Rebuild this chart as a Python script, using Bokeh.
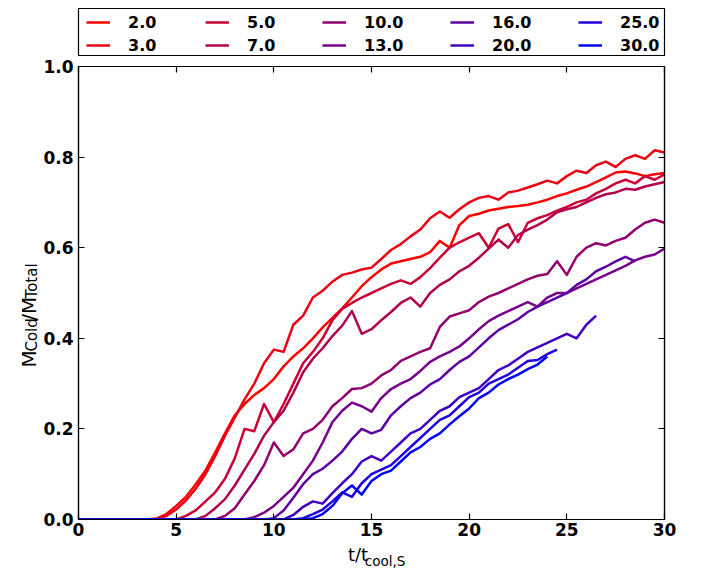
import math
from bokeh.plotting import figure
from bokeh.layouts import column, row
from bokeh.models import Label, Legend, LegendItem, LinearAxis, FixedTicker, ColumnDataSource
from bokeh.embed import file_html
from bokeh.resources import INLINE

NAN = float("nan")

t_grid = [0.0, 0.5, 1.0, 1.5, 2.0, 2.5, 3.0, 3.5, 4.0, 4.5, 5.0, 5.5, 6.0, 6.5, 7.0, 7.5,
          8.0, 8.5, 9.0, 9.5, 10.0, 10.5, 11.0, 11.5, 12.0, 12.5, 13.0, 13.5, 14.0, 14.5,
          15.0, 15.5, 16.0, 16.5, 17.0, 17.5, 18.0, 18.5, 19.0, 19.5, 20.0, 20.5, 21.0,
          21.5, 22.0, 22.5, 23.0, 23.5, 24.0, 24.5, 25.0, 25.5, 26.0, 26.5, 27.0, 27.5,
          28.0, 28.5, 29.0, 29.5, 30.0]

labels = ["2.0", "3.0", "5.0", "7.0", "10.0", "13.0", "16.0", "20.0", "25.0", "30.0"]
colors = ["#ff0000", "#eb0014", "#cb0034", "#b2004d", "#91006e", "#760089",
          "#5d00a2", "#3f00c0", "#1e00e1", "#0000ff"]

y_2 = [0, 0, 0, 0, 0, 0, 0, 0, 0.002, 0.012, 0.03, 0.05, 0.078, 0.108, 0.148, 0.19,
       0.23, 0.255, 0.275, 0.29, 0.31, 0.338, 0.36, 0.378, 0.4, 0.424, 0.445, 0.466,
       0.49, 0.515, 0.535, 0.552, 0.565, 0.57, 0.575, 0.58, 0.59, 0.615, 0.6, 0.65,
       0.67, 0.675, 0.682, 0.686, 0.69, 0.692, 0.695, 0.70, 0.706, 0.714, 0.72, 0.728,
       0.735, 0.745, 0.755, 0.766, 0.768, 0.764, 0.758, 0.762, 0.765]
y_3 = [0, 0, 0, 0, 0, 0, 0, 0, 0, 0.008, 0.022, 0.042, 0.068, 0.1, 0.14, 0.185,
       0.225, 0.265, 0.3, 0.345, 0.375, 0.37, 0.43, 0.45, 0.49, 0.505, 0.525, 0.54,
       0.545, 0.552, 0.556, 0.575, 0.595, 0.608, 0.625, 0.64, 0.665, 0.68, 0.666, 0.685,
       0.70, 0.71, 0.714, 0.706, 0.722, 0.726, 0.733, 0.74, 0.748, 0.742, 0.758, 0.77,
       0.765, 0.782, 0.79, 0.778, 0.796, 0.804, 0.796, 0.815, 0.81]
y_5 = [0, 0, 0, 0, 0, 0, 0, 0, 0, 0, 0, 0.008, 0.02, 0.04, 0.06, 0.09,
       0.135, 0.2, 0.195, 0.255, 0.215, 0.255, 0.3, 0.345, 0.37, 0.40, 0.44, 0.465,
       0.478, 0.49, 0.5, 0.51, 0.52, 0.528, 0.52, 0.535, 0.555, 0.578, 0.6, 0.612,
       0.622, 0.632, 0.6, 0.642, 0.652, 0.612, 0.655, 0.665, 0.672, 0.682, 0.69, 0.7,
       0.706, 0.72, 0.73, 0.742, 0.75, 0.742, 0.758, 0.75, 0.762]
y_7 = [0, 0, 0, 0, 0, 0, 0, 0, 0, 0, 0, 0, 0, 0.008, 0.025, 0.045,
       0.075, 0.11, 0.145, 0.185, 0.215, 0.24, 0.28, 0.325, 0.355, 0.378, 0.405, 0.428,
       0.46, 0.41, 0.42, 0.44, 0.458, 0.478, 0.49, 0.47, 0.5, 0.518, 0.53, 0.548,
       0.56, 0.578, 0.598, 0.618, 0.6, 0.628, 0.64, 0.65, 0.662, 0.678, 0.685, 0.69,
       0.7, 0.71, 0.718, 0.722, 0.73, 0.728, 0.735, 0.74, 0.745]
y_10 = [0, 0, 0, 0, 0, 0, 0, 0, 0, 0, 0, 0, 0, 0, 0, 0.008,
        0.025, 0.055, 0.085, 0.12, 0.17, 0.14, 0.155, 0.19, 0.2, 0.22, 0.25, 0.268,
        0.288, 0.29, 0.3, 0.318, 0.33, 0.35, 0.36, 0.37, 0.378, 0.425, 0.448, 0.455,
        0.462, 0.48, 0.492, 0.5, 0.51, 0.52, 0.53, 0.538, 0.542, 0.57, 0.54, 0.58,
        0.6, 0.61, 0.605, 0.615, 0.622, 0.64, 0.655, 0.662, 0.655]
y_13 = [0, 0, 0, 0, 0, 0, 0, 0, 0, 0, 0, 0, 0, 0, 0, 0,
        0, 0, 0.005, 0.015, 0.03, 0.05, 0.07, 0.1, 0.13, 0.17, 0.215, 0.24,
        0.258, 0.25, 0.238, 0.268, 0.288, 0.3, 0.31, 0.328, 0.348, 0.36, 0.37, 0.382,
        0.4, 0.42, 0.438, 0.45, 0.46, 0.47, 0.48, 0.47, 0.49, 0.5, 0.5, 0.51,
        0.52, 0.53, 0.54, 0.55, 0.56, 0.572, 0.58, 0.585, 0.598]
y_16 = [0, 0, 0, 0, 0, 0, 0, 0, 0, 0, 0, 0, 0, 0, 0, 0,
        0, 0, 0, 0, 0.003, 0.02, 0.048, 0.078, 0.1, 0.112, 0.13, 0.15,
        0.178, 0.2, 0.19, 0.198, 0.23, 0.25, 0.268, 0.28, 0.298, 0.31, 0.33, 0.348,
        0.36, 0.38, 0.4, 0.418, 0.43, 0.442, 0.458, 0.47, 0.48, 0.49, 0.5, 0.518,
        0.53, 0.548, 0.558, 0.57, 0.58, 0.57, NAN, NAN, NAN]
y_20 = [0, 0, 0, 0, 0, 0, 0, 0, 0, 0, 0, 0, 0, 0, 0, 0,
        0, 0, 0, 0, 0, 0, 0.01, 0.028, 0.04, 0.035, 0.058, 0.08,
        0.1, 0.128, 0.14, 0.13, 0.15, 0.17, 0.19, 0.2, 0.22, 0.24, 0.25, 0.27,
        0.28, 0.29, 0.31, 0.33, 0.34, 0.355, 0.37, 0.38, 0.39, 0.4, 0.41, 0.4,
        0.43, 0.45, NAN, NAN, NAN, NAN, NAN, NAN, NAN]
y_25 = [0, 0, 0, 0, 0, 0, 0, 0, 0, 0, 0, 0, 0, 0, 0, 0,
        0, 0, 0, 0, 0, 0, 0, 0.003, 0.012, 0.022, 0.04, 0.06,
        0.05, 0.08, 0.1, 0.11, 0.12, 0.14, 0.16, 0.18, 0.2, 0.22, 0.23, 0.25,
        0.27, 0.28, 0.3, 0.31, 0.32, 0.335, 0.35, 0.352, 0.365, 0.375, NAN, NAN,
        NAN, NAN, NAN, NAN, NAN, NAN, NAN, NAN, NAN]
y_30 = [0, 0, 0, 0, 0, 0, 0, 0, 0, 0, 0, 0, 0, 0, 0, 0,
        0, 0, 0, 0, 0, 0, 0, 0, 0.003, 0.012, 0.03, 0.058,
        0.075, 0.055, 0.085, 0.1, 0.108, 0.128, 0.148, 0.16, 0.178, 0.19, 0.21, 0.228,
        0.245, 0.268, 0.28, 0.298, 0.31, 0.32, 0.332, 0.342, 0.36, NAN, NAN, NAN,
        NAN, NAN, NAN, NAN, NAN, NAN, NAN, NAN, NAN]

series = [y_2, y_3, y_5, y_7, y_10, y_13, y_16, y_20, y_25, y_30]

x_ticks = [0, 5, 10, 15, 20, 25, 30]
y_ticks = [0.0, 0.2, 0.4, 0.6, 0.8, 1.0]

FONT = "DejaVu Sans"
LW = 2.5

# ---------------- main plot ----------------
p = figure(frame_width=586, frame_height=453, x_range=(0, 30), y_range=(0, 1),
           output_backend="svg", toolbar_location=None,
           min_border_left=38, min_border_top=10, min_border_bottom=26, min_border_right=34)
p.background_fill_color = "white"
p.border_fill_color = "white"
p.outline_line_color = "black"
p.outline_line_width = 1.2
p.xgrid.visible = False
p.ygrid.visible = False

def style_axis(ax, show_labels=True):
    ax.major_tick_in = 6
    ax.major_tick_out = 0
    ax.minor_tick_line_color = None
    ax.major_tick_line_color = "black"
    ax.major_tick_line_width = 1.2
    ax.axis_line_color = "black"
    ax.axis_line_width = 1.2
    ax.major_label_text_font = FONT
    ax.major_label_text_font_style = "bold"
    if show_labels:
        ax.major_label_text_font_size = "17px"
        ax.major_label_text_color = "black"
        ax.major_label_standoff = 5
    else:
        ax.major_label_text_font_size = "1px"
        ax.major_label_text_color = None
        ax.major_label_standoff = 0

p.xaxis.ticker = FixedTicker(ticks=x_ticks)
p.yaxis.ticker = FixedTicker(ticks=y_ticks)
p.xaxis.major_label_overrides = {v: str(v) for v in x_ticks}
p.yaxis.major_label_overrides = {v: "%.1f" % v for v in y_ticks}
style_axis(p.xaxis[0])
style_axis(p.yaxis[0])
p.xaxis[0].major_label_standoff = 3

top_ax = LinearAxis(ticker=FixedTicker(ticks=x_ticks))
style_axis(top_ax, False)
p.add_layout(top_ax, "above")
right_ax = LinearAxis(ticker=FixedTicker(ticks=y_ticks))
style_axis(right_ax, False)
p.add_layout(right_ax, "right")

for col, ys in zip(colors, series):
    src = ColumnDataSource(dict(t=t_grid, y=ys))
    p.line("t", "y", source=src, line_color=col, line_width=LW, line_join="round")

# ---------------- legend strip (its frame is the legend box) ----------------
lf = figure(width=700, height=56, x_range=(0, 1), y_range=(0, 1),
            output_backend="svg", toolbar_location=None,
            x_axis_location=None, y_axis_location=None,
            min_border_left=78, min_border_right=36, min_border_top=8, min_border_bottom=0)
lf.xgrid.visible = False
lf.ygrid.visible = False
lf.outline_line_color = "black"
lf.outline_line_width = 1.2
lf.border_fill_color = "white"

leg_items = []
for lab_txt, col in zip(labels, colors):
    # a single empty (NaN) point: nothing is drawn, only the legend swatch
    r = lf.line(x=[NAN], y=[NAN], line_color=col, line_width=LW)
    leg_items.append(LegendItem(label=lab_txt, renderers=[r]))

col_x = [8, 127, 244, 372, 500]
for k in range(5):
    lg = Legend(items=leg_items[2 * k:2 * k + 2], location=(col_x[k], 1),
                orientation="vertical",
                label_text_font=FONT, label_text_font_style="bold",
                label_text_font_size="16px", label_text_color="black",
                glyph_width=24, glyph_height=20, label_height=20,
                label_standoff=18, spacing=3, padding=2, margin=0,
                border_line_color=None, background_fill_alpha=0.0)
    lf.add_layout(lg, "center")

# ---------------- y-axis title strip ----------------
yl = figure(width=40, height=489, x_range=(0, 40), y_range=(0, 489),
            output_backend="svg", toolbar_location=None,
            x_axis_location=None, y_axis_location=None, min_border=0)
yl.xgrid.visible = False
yl.ygrid.visible = False
yl.outline_line_color = None
yl.border_fill_color = "white"

def tlabel(fig, text, x, y, size, angle=0.0):
    fig.add_layout(Label(x=x, y=y, x_units="data", y_units="data",
                         text=text, text_font=FONT, text_font_size=size,
                         text_color="black", angle=angle,
                         text_align="left", text_baseline="alphabetic"))

ang = math.pi / 2
y0 = 164
tlabel(yl, "M", 28, y0, "20px", ang)
tlabel(yl, "Cold", 31, y0 + 17.3, "15px", ang)
tlabel(yl, "/M", 28, y0 + 17.3 + 33.3, "20px", ang)
tlabel(yl, "Total", 31, y0 + 17.3 + 33.3 + 24.0, "15px", ang)

# ---------------- x-axis title strip ----------------
xl = figure(width=698, height=26, x_range=(0, 698), y_range=(0, 26),
            output_backend="svg", toolbar_location=None,
            x_axis_location=None, y_axis_location=None, min_border=0)
xl.xgrid.visible = False
xl.ygrid.visible = False
xl.outline_line_color = None
xl.border_fill_color = "white"
tlabel(xl, "t/t", 322, 17, "18px")
tlabel(xl, "cool,S", 342.2, 11, "13.5px")

layout = column(lf, row(yl, p), xl)
open("out.html", "w").write(file_html(layout, INLINE))
